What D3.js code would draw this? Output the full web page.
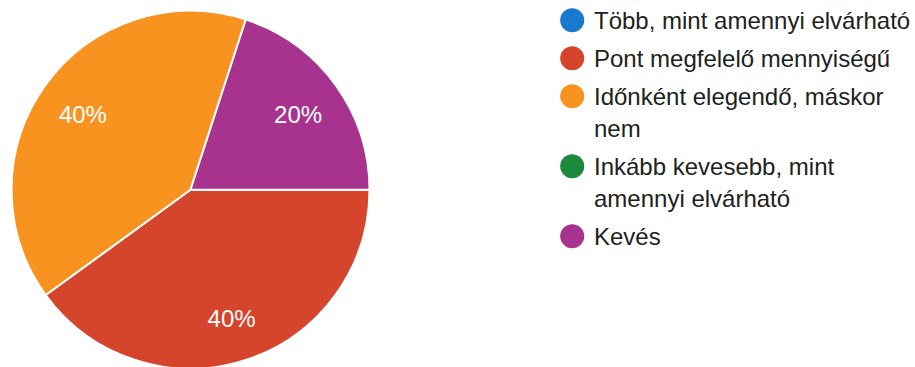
<!DOCTYPE html>
<html lang="hu">
<head>
<meta charset="utf-8">
<script src="https://cdn.jsdelivr.net/npm/d3@7"></script>
<style>
  html, body { margin: 0; padding: 0; background: #ffffff; }
  svg { display: block; }
</style>
</head>
<body>
<svg id="chart" width="915" height="367"></svg>
<script>
// Answer categories (legend lines already broken where they wrap)
const categories = [
  ["Több, mint amennyi elvárható"],
  ["Pont megfelelő mennyiségű"],
  ["Időnként elegendő, máskor", "nem"],
  ["Inkább kevesebb, mint", "amennyi elvárható"],
  ["Kevés"]
];
// Share of responses per category, in percent
const shares = [0, 40, 40, 0, 20];
// Slice colours, one per category
const colors = ["#1a78cf", "#d4452b", "#f7931e", "#1b8a3c", "#a8338e"];

const svg = d3.select("#chart");
const cx = 190.5, cy = 189.8, radius = 179;
const font = "'Liberation Sans', Arial, sans-serif";

const data = categories.map((c, i) => ({ label: c, value: shares[i], color: colors[i] }));

// Slices run clockwise, the first one starting at 3 o'clock
const pie = d3.pie()
  .sort(null)
  .value(d => d.value)
  .startAngle(Math.PI / 2)
  .endAngle(Math.PI / 2 + 2 * Math.PI);

const arc = d3.arc().innerRadius(0).outerRadius(radius);
const labelArc = d3.arc().innerRadius(radius * 0.743).outerRadius(radius * 0.743);

const g = svg.append("g").attr("transform", `translate(${cx},${cy})`);
const arcs = pie(data).filter(d => d.data.value > 0);

g.selectAll("path.slice")
  .data(arcs)
  .join("path")
  .attr("class", "slice")
  .attr("d", arc)
  .attr("fill", d => d.data.color)
  .attr("stroke", "#ffffff")
  .attr("stroke-width", 2)
  .attr("stroke-linejoin", "round");

const total = d3.sum(shares);
const pct = d3.format(".0%");

g.selectAll("text.pct")
  .data(arcs)
  .join("text")
  .attr("class", "pct")
  .attr("transform", d => `translate(${labelArc.centroid(d)})`)
  .attr("text-anchor", "middle")
  .attr("dy", "0.46em")
  .attr("font-family", font)
  .attr("font-size", 24)
  .attr("fill", "#ffffff")
  .text(d => pct(d.data.value / total));

// Legend
const legendX = 572.2, legendTextX = 594, legendY0 = 20.2;
const lineH = 32, entryGap = 6;
let y = legendY0;
const legend = svg.append("g").attr("class", "legend");
data.forEach(d => {
  const item = legend.append("g").attr("transform", `translate(0,${y})`);
  item.append("circle")
    .attr("cx", legendX)
    .attr("cy", 0)
    .attr("r", 12)
    .attr("fill", d.color);
  const t = item.append("text")
    .attr("font-family", font)
    .attr("font-size", 24)
    .attr("fill", "#212121");
  d.label.forEach((line, j) => {
    t.append("tspan")
      .attr("x", legendTextX)
      .attr("y", j * lineH)
      .attr("dy", "0.36em")
      .text(line);
  });
  y += d.label.length * lineH + entryGap;
});
</script>
</body>
</html>
